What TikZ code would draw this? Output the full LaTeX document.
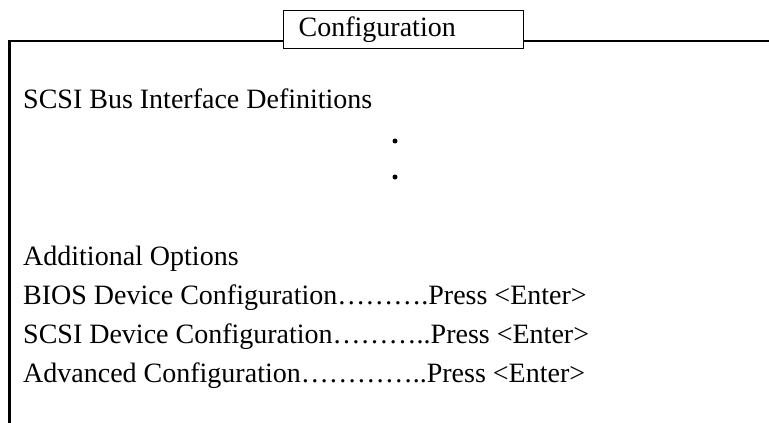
\documentclass[tikz,border=0pt]{standalone}
\usepackage{fontspec}
\setmainfont{Liberation Serif}
\begin{document}
\begin{tikzpicture}[x=1pt,y=-1pt,
  frameline/.style={line width=2.2pt},
  txt/.style={anchor=base west,inner sep=0pt,font=\fontsize{28}{32}\selectfont},
  bullet/.style={circle,fill=black,inner sep=0pt,minimum size=5pt}]
\useasboundingbox (0,0) rectangle (769,423);
\node[draw,line width=1.4pt,anchor=north west,minimum width=240pt,minimum height=38pt,
  text width=210pt,inner xsep=15pt,inner ysep=0pt,align=left,
  font=\fontsize{28}{32}\selectfont] (title) at (283,10) {\strut Configuration};
\coordinate (tl) at (9.5,41);
\coordinate (bl) at (9.5,423);
\coordinate (tr) at (769,41);
\draw[frameline] (bl) -- (tl) -- (title.west |- tl);
\draw[frameline] (title.east |- tr) -- (tr);
\node[txt] (scsibus) at (23,108) {SCSI Bus Interface Definitions};
\node[bullet] (d1) at (395,141) {};
\node[bullet] (d2) at (395,177) {};
\node[txt] (addopt) at (23,265) {Additional Options};
\node[txt] (bios) at (23,304) {BIOS Device Configuration……….Press <Enter>};
\node[txt] (scsidev) at (23,343) {SCSI Device Configuration………..Press <Enter>};
\node[txt] (adv) at (23,382) {Advanced Configuration…………..Press <Enter>};
\end{tikzpicture}
\end{document}
